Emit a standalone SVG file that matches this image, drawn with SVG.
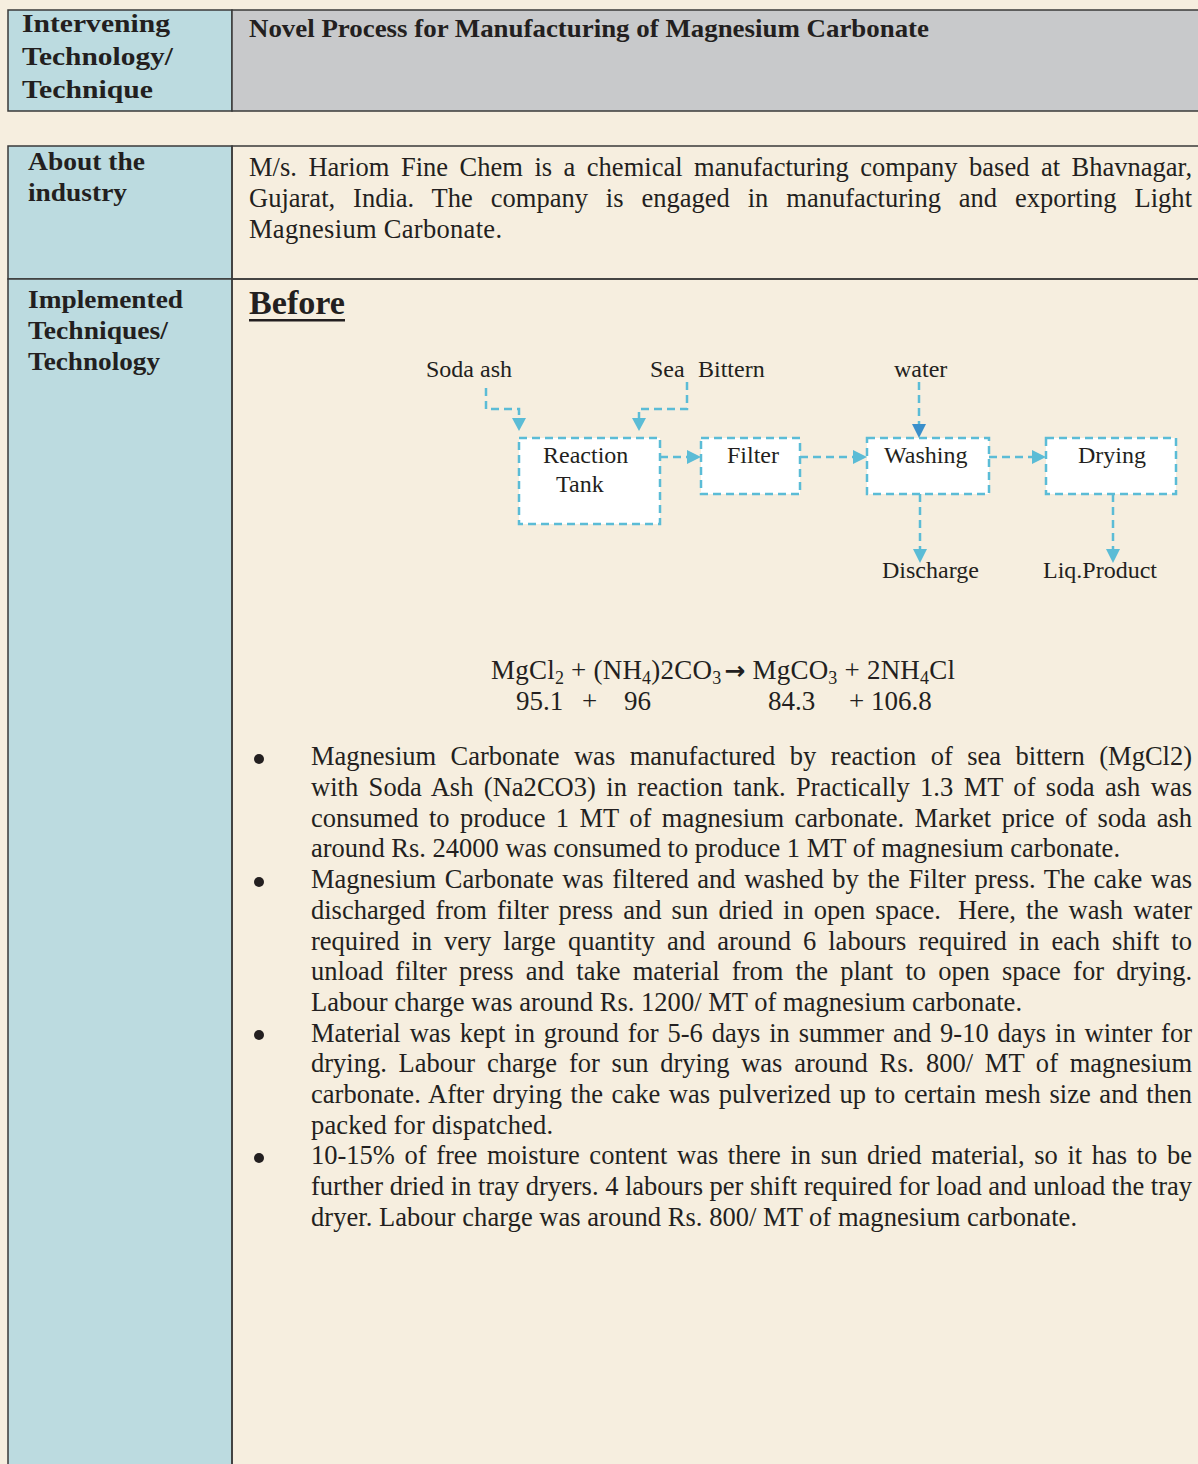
<svg xmlns="http://www.w3.org/2000/svg" width="1198" height="1464" viewBox="0 0 1198 1464">
<defs>
<style>
.bg{fill:#F6EEDF}
.cellL{fill:#BCDBE0;stroke:#3a3a3a;stroke-width:1.5}
.cellG{fill:#C8C9CB;stroke:#3a3a3a;stroke-width:1.5}
.cellC{fill:none;stroke:#3a3a3a;stroke-width:1.5}
.hb{font-family:"Liberation Serif",serif;font-weight:bold;font-size:26px;fill:#231f20}
.lb{font-family:"Liberation Serif",serif;font-weight:bold;font-size:25px;fill:#231f20}
.body{font-family:"Liberation Serif",serif;font-size:26.5px;fill:#231f20}
.dg{font-family:"Liberation Serif",serif;font-size:24px;fill:#231f20}
.eq{font-family:"Liberation Serif",serif;font-size:27px;fill:#231f20}
.arr{font-family:"DejaVu Sans",sans-serif;font-weight:bold;font-size:25px}
.sub{font-size:18px}
.box{fill:#ffffff;stroke:#5BBCD6;stroke-width:2.5;stroke-dasharray:8 5}
.con{fill:none;stroke:#5BBCD6;stroke-width:2.5;stroke-dasharray:8 5}
.ah{fill:#5BBCD6}
.ahd{fill:#3A8FCB}
</style>
</defs>
<rect class="bg" x="0" y="0" width="1198" height="1464"/>

<g id="table">
  <rect class="cellL" x="8" y="10" width="224" height="101"/>
  <rect class="cellG" x="232" y="10" width="980" height="101"/>
  <rect class="cellL" x="8" y="146" width="224" height="133"/>
  <rect class="cellC" x="232" y="146" width="980" height="133"/>
  <rect class="cellL" x="8" y="279" width="224" height="1200"/>
  <rect class="cellC" x="232" y="279" width="980" height="1200"/>
</g>

<g id="labels">
  <text class="hb" x="22" y="32" textLength="148" lengthAdjust="spacingAndGlyphs">Intervening</text>
  <text class="hb" x="22" y="65" textLength="151" lengthAdjust="spacingAndGlyphs">Technology/</text>
  <text class="hb" x="22" y="98" textLength="131" lengthAdjust="spacingAndGlyphs">Technique</text>
  <text class="hb" x="249" y="37" textLength="680" lengthAdjust="spacingAndGlyphs">Novel Process for Manufacturing of Magnesium Carbonate</text>
  <text class="lb" x="28" y="170" textLength="117" lengthAdjust="spacingAndGlyphs">About the</text>
  <text class="lb" x="28" y="201" textLength="99" lengthAdjust="spacingAndGlyphs">industry</text>
  <text class="lb" x="28" y="308" textLength="155" lengthAdjust="spacingAndGlyphs">Implemented</text>
  <text class="lb" x="28" y="339" textLength="140" lengthAdjust="spacingAndGlyphs">Techniques/</text>
  <text class="lb" x="28" y="370" textLength="132" lengthAdjust="spacingAndGlyphs">Technology</text>
</g>

<g id="about">
  <text class="body" x="249" y="176" textLength="943" style="word-spacing:4.8px">M/s. Hariom Fine Chem is a chemical manufacturing company based at Bhavnagar,</text>
  <text class="body" x="249" y="207" textLength="943" style="word-spacing:11.3px">Gujarat, India. The company is engaged in manufacturing and exporting Light</text>
  <text class="body" x="249" y="238" textLength="253">Magnesium Carbonate.</text>
</g>

<g id="before-title">
  <text x="249" y="314" textLength="96" lengthAdjust="spacingAndGlyphs" style="font-family:'Liberation Serif',serif;font-weight:bold;font-size:33px;fill:#231f20">Before</text>
  <rect x="249" y="319" width="96" height="2.5" fill="#231f20"/>
</g>

<g id="connectors">
  <path class="con" d="M486,388 V409 H519 V418"/>
  <polygon class="ah" points="512,418 526,418 519,431"/>
  <path class="con" d="M687,382 V409 H639 V418"/>
  <polygon class="ah" points="632,418 646,418 639,431"/>
  <path class="con" d="M660,457 H687"/>
  <polygon class="ah" points="687,450 687,464 701,457"/>
  <path class="con" d="M800,457 H853"/>
  <polygon class="ah" points="853,450 853,464 867,457"/>
  <path class="con" d="M989,457 H1032"/>
  <polygon class="ah" points="1032,450 1032,464 1046,457"/>
  <path class="con" d="M919,382 V424"/>
  <polygon class="ahd" points="912,424 926,424 919,438"/>
  <path class="con" d="M920,494 V549"/>
  <polygon class="ah" points="913,549 927,549 920,563"/>
  <path class="con" d="M1113,494 V549"/>
  <polygon class="ah" points="1106,549 1120,549 1113,563"/>
</g>

<g id="node-reaction-tank">
  <rect class="box" x="519" y="438" width="141" height="86"/>
  <text class="dg" x="543" y="463">Reaction</text>
  <text class="dg" x="556" y="492">Tank</text>
</g>
<g id="node-filter">
  <rect class="box" x="701" y="438" width="99" height="56"/>
  <text class="dg" x="727" y="463">Filter</text>
</g>
<g id="node-washing">
  <rect class="box" x="867" y="438" width="122" height="56"/>
  <text class="dg" x="884" y="463">Washing</text>
</g>
<g id="node-drying">
  <rect class="box" x="1046" y="438" width="130" height="56"/>
  <text class="dg" x="1078" y="463">Drying</text>
</g>
<g id="node-soda-ash"><text class="dg" x="426" y="377">Soda ash</text></g>
<g id="node-sea-bittern"><text class="dg" x="650" y="377">Sea</text><text class="dg" x="698" y="377">Bittern</text></g>
<g id="node-water"><text class="dg" x="894" y="377">water</text></g>
<g id="node-discharge"><text class="dg" x="882" y="578">Discharge</text></g>
<g id="node-liq-product"><text class="dg" x="1043" y="578">Liq.Product</text></g>

<g id="equation">
  <text class="eq" x="491" y="679" textLength="464">MgCl<tspan class="sub" dy="5">2</tspan><tspan dy="-5"> + (NH</tspan><tspan class="sub" dy="5">4</tspan><tspan dy="-5">)2CO</tspan><tspan class="sub" dy="5">3</tspan><tspan class="arr" dy="-5" dx="3">→</tspan><tspan> MgCO</tspan><tspan class="sub" dy="5">3</tspan><tspan dy="-5"> + 2NH</tspan><tspan class="sub" dy="5">4</tspan><tspan dy="-5">Cl</tspan></text>
  <text class="eq" x="516" y="710">95.1</text>
  <text class="eq" x="582" y="710">+</text>
  <text class="eq" x="624" y="710">96</text>
  <text class="eq" x="768" y="710">84.3</text>
  <text class="eq" x="849" y="710">+ 106.8</text>
</g>

<g id="bullets">
  <circle cx="259" cy="759" r="5" fill="#231f20"/>
  <circle cx="259" cy="882" r="5" fill="#231f20"/>
  <circle cx="259" cy="1035" r="5" fill="#231f20"/>
  <circle cx="259" cy="1158" r="5" fill="#231f20"/>
  <text class="body" x="311" y="765" textLength="881" style="word-spacing:7.9px">Magnesium Carbonate was manufactured by reaction of sea bittern (MgCl2)</text>
  <text class="body" x="311" y="796" textLength="881" style="word-spacing:3.7px">with Soda Ash (Na2CO3) in reaction tank. Practically 1.3 MT of soda ash was</text>
  <text class="body" x="311" y="827" textLength="881" style="word-spacing:3.8px">consumed to produce 1 MT of magnesium carbonate. Market price of soda ash</text>
  <text class="body" x="311" y="857" textLength="809">around Rs. 24000 was consumed to produce 1 MT of magnesium carbonate.</text>
  <text class="body" x="311" y="888" textLength="881" style="word-spacing:2px">Magnesium Carbonate was filtered and washed by the Filter press. The cake was</text>
  <text class="body" x="311" y="919" textLength="881" style="word-spacing:3.5px">discharged from filter press and sun dried in open space. <tspan dx="7">Here, the wash water</tspan></text>
  <text class="body" x="311" y="950" textLength="881" style="word-spacing:5.4px">required in very large quantity and around 6 labours required in each shift to</text>
  <text class="body" x="311" y="980" textLength="881" style="word-spacing:5.6px">unload filter press and take material from the plant to open space for drying.</text>
  <text class="body" x="311" y="1011" textLength="711">Labour charge was around Rs. 1200/ MT of magnesium carbonate.</text>
  <text class="body" x="311" y="1042" textLength="881" style="word-spacing:2.3px">Material was kept in ground for 5-6 days in summer and 9-10 days in winter for</text>
  <text class="body" x="311" y="1072" textLength="881" style="word-spacing:5.1px">drying. Labour charge for sun drying was around Rs. 800/ MT of magnesium</text>
  <text class="body" x="311" y="1103" textLength="881" style="word-spacing:2px">carbonate. After drying the cake was pulverized up to certain mesh size and then</text>
  <text class="body" x="311" y="1134" textLength="242">packed for dispatched.</text>
  <text class="body" x="311" y="1164" textLength="881" style="word-spacing:3px">10-15% of free moisture content was there in sun dried material, so it has to be</text>
  <text class="body" x="311" y="1195" textLength="881">further dried in tray dryers. 4 labours per shift required for load and unload the tray</text>
  <text class="body" x="311" y="1226" textLength="766">dryer. Labour charge was around Rs. 800/ MT of magnesium carbonate.</text>
</g>
</svg>
